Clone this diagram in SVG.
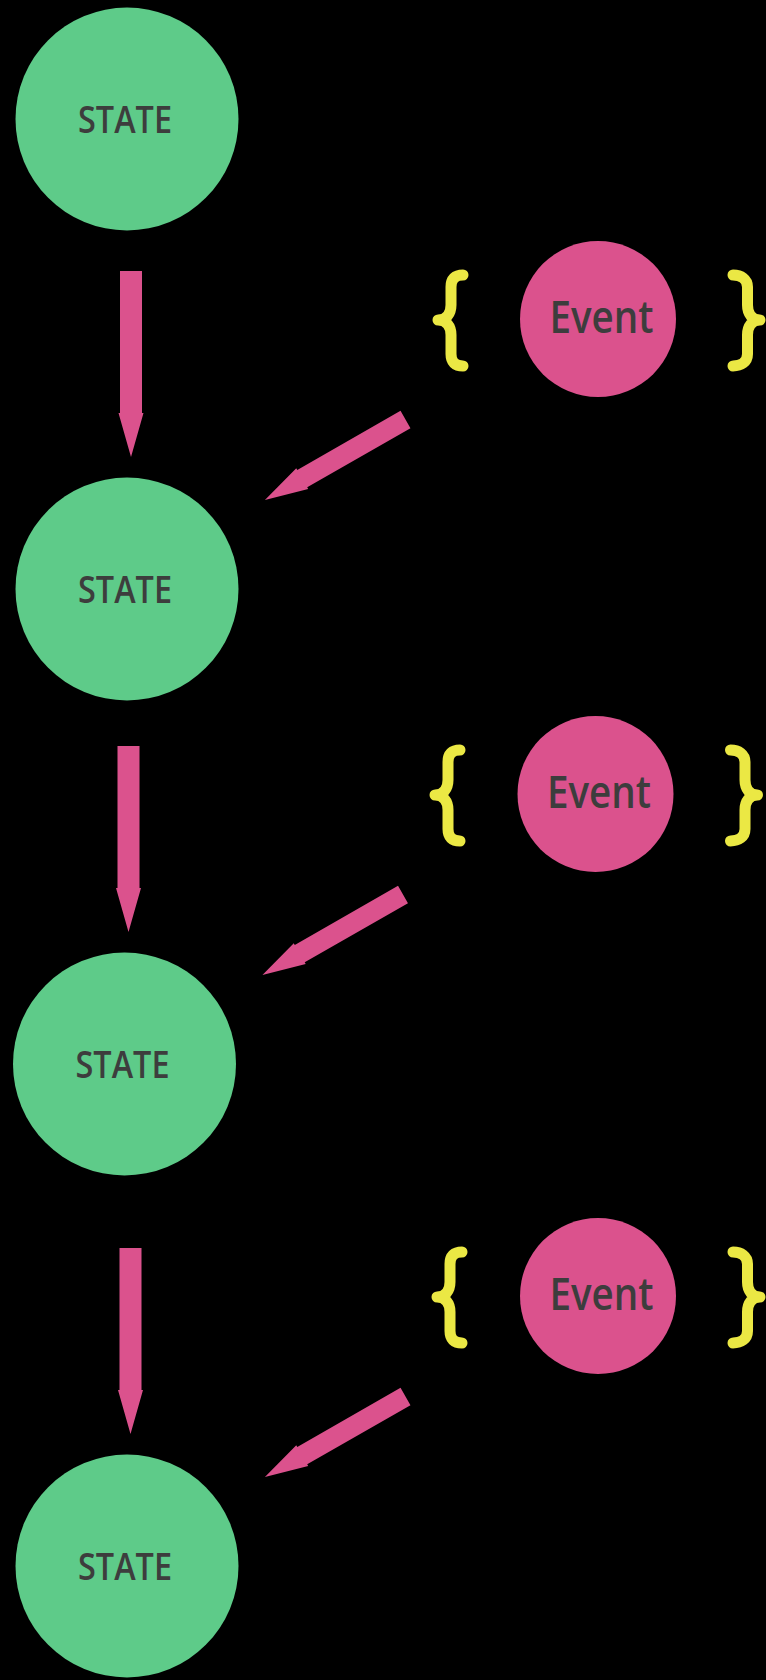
<svg xmlns="http://www.w3.org/2000/svg" xmlns:xlink="http://www.w3.org/1999/xlink" width="766" height="1680" viewBox="0 0 766 1680">
<style>
.state{fill:#5ecb89}
.event{fill:#db528d}
.arrow{fill:#db528d}
.brace{fill:none;stroke:#ebe844;stroke-width:11;stroke-linecap:round;stroke-linejoin:round}
.lbl{font-family:"Open Sans","DejaVu Sans",sans-serif;font-weight:600;fill:#3d3d3d;text-anchor:middle}
.s{font-size:37px}
.e{font-size:45px}
</style>
<defs>
<polygon id="vArrow" points="0,-11 142,-11 142,-12.5 186,0 142,12.5 142,11 0,11"/>
<polygon id="dArrow" points="0,-10 119,-10 119,-12 162,0 119,12 119,10 0,10"/>
<path id="lBrace" d="M463,275 C455,275 451,279 451,287 L451,305 C451,314 446,320 438,320 C446,320 451,326 451,335 L451,354 C451,362 455,366 463,366"/>
<path id="rBrace" d="M733,275 C741,275 747.5,279 747.5,287 L747.5,305 C747.5,314 752.5,320 760,320 C752.5,320 747.5,326 747.5,335 L747.5,354 C747.5,362 741,366 733,366"/>
</defs>
<rect x="0" y="0" width="766" height="1680" fill="#000"/>
<g id="connectors">
<use xlink:href="#vArrow" class="arrow" transform="translate(131,271) rotate(90)"/>
<use xlink:href="#dArrow" class="arrow" transform="translate(405.5,419.5) rotate(150.2)"/>
<use xlink:href="#vArrow" class="arrow" transform="translate(128.5,746) rotate(90)"/>
<use xlink:href="#dArrow" class="arrow" transform="translate(403,894.5) rotate(150.2)"/>
<use xlink:href="#vArrow" class="arrow" transform="translate(130.5,1248) rotate(90)"/>
<use xlink:href="#dArrow" class="arrow" transform="translate(405.5,1396.5) rotate(150.2)"/>
</g>
<g id="state1">
<circle class="state" cx="127" cy="119" r="111.5"/>
<text class="lbl s" x="125" y="133" textLength="94" lengthAdjust="spacingAndGlyphs">STATE</text>
</g>
<g id="state2">
<circle class="state" cx="127" cy="589" r="111.5"/>
<text class="lbl s" x="125" y="603" textLength="94" lengthAdjust="spacingAndGlyphs">STATE</text>
</g>
<g id="state3">
<circle class="state" cx="124.5" cy="1064" r="111.5"/>
<text class="lbl s" x="122.5" y="1078" textLength="94" lengthAdjust="spacingAndGlyphs">STATE</text>
</g>
<g id="state4">
<circle class="state" cx="127" cy="1566" r="111.5"/>
<text class="lbl s" x="125" y="1580" textLength="94" lengthAdjust="spacingAndGlyphs">STATE</text>
</g>
<g id="event1">
<use xlink:href="#lBrace" class="brace"/>
<circle class="event" cx="598" cy="319" r="78"/>
<text class="lbl e" x="601.5" y="333" textLength="104" lengthAdjust="spacingAndGlyphs">Event</text>
<use xlink:href="#rBrace" class="brace"/>
</g>
<g id="event2">
<use xlink:href="#lBrace" class="brace" transform="translate(-3,475)"/>
<circle class="event" cx="595.5" cy="794" r="78"/>
<text class="lbl e" x="599" y="808" textLength="104" lengthAdjust="spacingAndGlyphs">Event</text>
<use xlink:href="#rBrace" class="brace" transform="translate(-2.5,475)"/>
</g>
<g id="event3">
<use xlink:href="#lBrace" class="brace" transform="translate(-1,977)"/>
<circle class="event" cx="598" cy="1296" r="78"/>
<text class="lbl e" x="601.5" y="1310" textLength="104" lengthAdjust="spacingAndGlyphs">Event</text>
<use xlink:href="#rBrace" class="brace" transform="translate(0,977)"/>
</g>
</svg>
